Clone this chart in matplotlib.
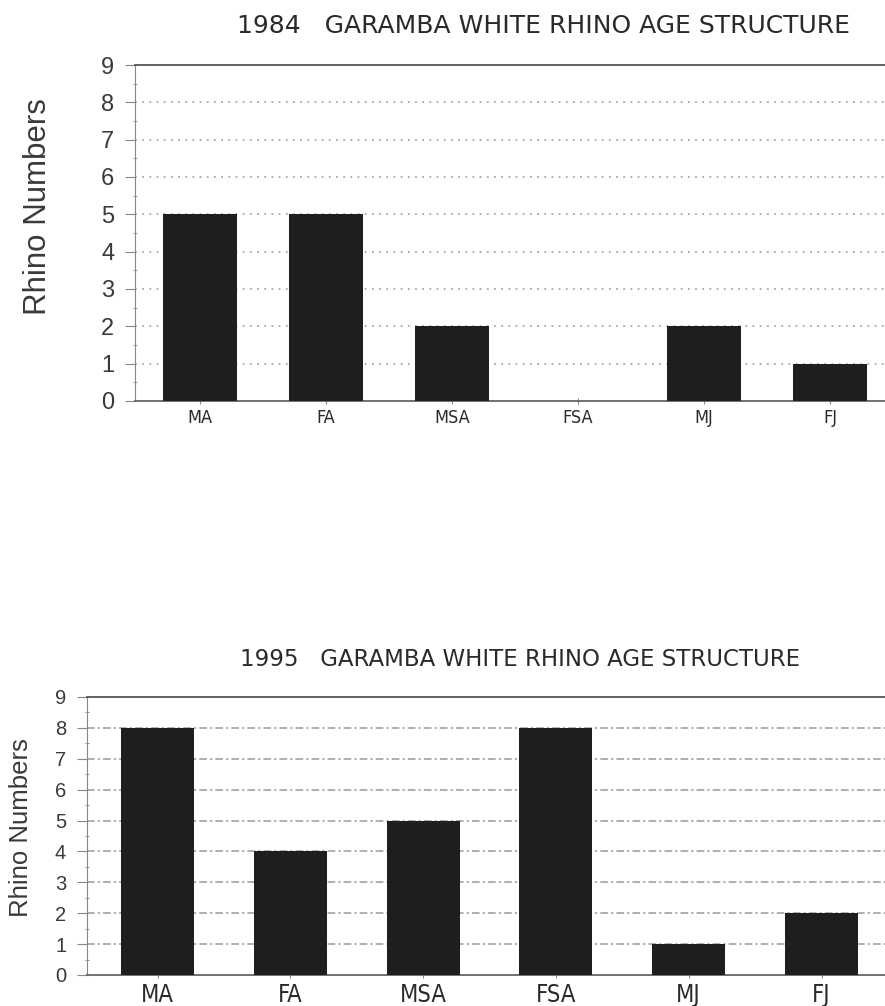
import matplotlib
matplotlib.use("Agg")
import matplotlib.pyplot as plt
from matplotlib.ticker import MultipleLocator

categories = ["MA", "FA", "MSA", "FSA", "MJ", "FJ"]
counts_1984 = [5, 5, 2, 0, 2, 1]
counts_1995 = [8, 4, 5, 8, 1, 2]
title_1984 = "1984   GARAMBA WHITE RHINO AGE STRUCTURE"
title_1995 = "1995   GARAMBA WHITE RHINO AGE STRUCTURE"
ylabel = "Rhino Numbers"

cond = ["DejaVu Sans", "Liberation Sans"]
plain = ["Liberation Sans", "DejaVu Sans"]

W, H = 885, 1006
fig = plt.figure(figsize=(W / 100, H / 100), dpi=100)


def draw(ax, vals, title, width, grid_ls, tick_fs, xt_fs, yl_fs, title_fs, title_x0, title_y):
    x = list(range(len(categories)))
    ax.bar(x, vals, width=width, color="#1e1e1e", zorder=3)
    ax.set_ylim(0, 9)
    ax.yaxis.set_major_locator(MultipleLocator(1))
    ax.yaxis.set_minor_locator(MultipleLocator(0.5))
    ax.set_xticks(x)
    ax.set_xticklabels(categories, fontsize=xt_fs, family=cond, stretch="condensed",
                       color="#2a2a2a")
    for lab in ax.get_yticklabels():
        lab.set_fontsize(tick_fs)
        lab.set_family(plain)
        lab.set_color("#3a3a3a")
    ax.set_ylabel(ylabel, fontsize=yl_fs, family=plain, color="#3a3a3a")
    for y in range(1, 9):
        ax.axhline(y, color="#9a9a9a", lw=1.1, ls=grid_ls, zorder=1)
    ax.spines["right"].set_visible(False)
    ax.spines["top"].set_color("#555555")
    ax.spines["top"].set_linewidth(1.3)
    ax.spines["left"].set_color("#888888")
    ax.spines["bottom"].set_color("#666666")
    ax.spines["bottom"].set_linewidth(1.3)
    ax.tick_params(axis="y", which="major", length=7, direction="out", color="#888888", pad=8)
    ax.tick_params(axis="y", which="minor", length=3, direction="inout", color="#888888")
    ax.tick_params(axis="x", length=5, direction="inout", color="#888888")
    fig.text(title_x0, title_y, title, fontsize=title_fs, family=cond, color="#2a2a2a",
             ha="left", va="center")


ax1 = fig.add_axes([135 / W, 1 - 401 / H, 1 - 135 / W, (401 - 65) / H])
ax1.set_xlim(-0.516, 5.437)
draw(ax1, counts_1984, title_1984, 0.587, (0, (1.2, 3.5)), 17, 13, 22.5, 18, 237 / W, 1 - 26 / H)
ax1.yaxis.set_label_coords((53 - 135) / (W - 135), (401 - 207) / (401 - 65))

ax2 = fig.add_axes([87 / W, 1 - 975 / H, 1 - 87 / W, (975 - 697) / H])
ax2.set_xlim(-0.531, 5.478)
draw(ax2, counts_1995, title_1995, 0.55, (0, (5, 2, 1.5, 2)), 14.5, 17, 18.5, 16.5, 240 / W, 1 - 660 / H)
ax2.yaxis.set_label_coords((33 - 87) / (W - 87), (975 - 828) / (975 - 697))

fig.savefig("out.png", dpi=100, facecolor="white")
